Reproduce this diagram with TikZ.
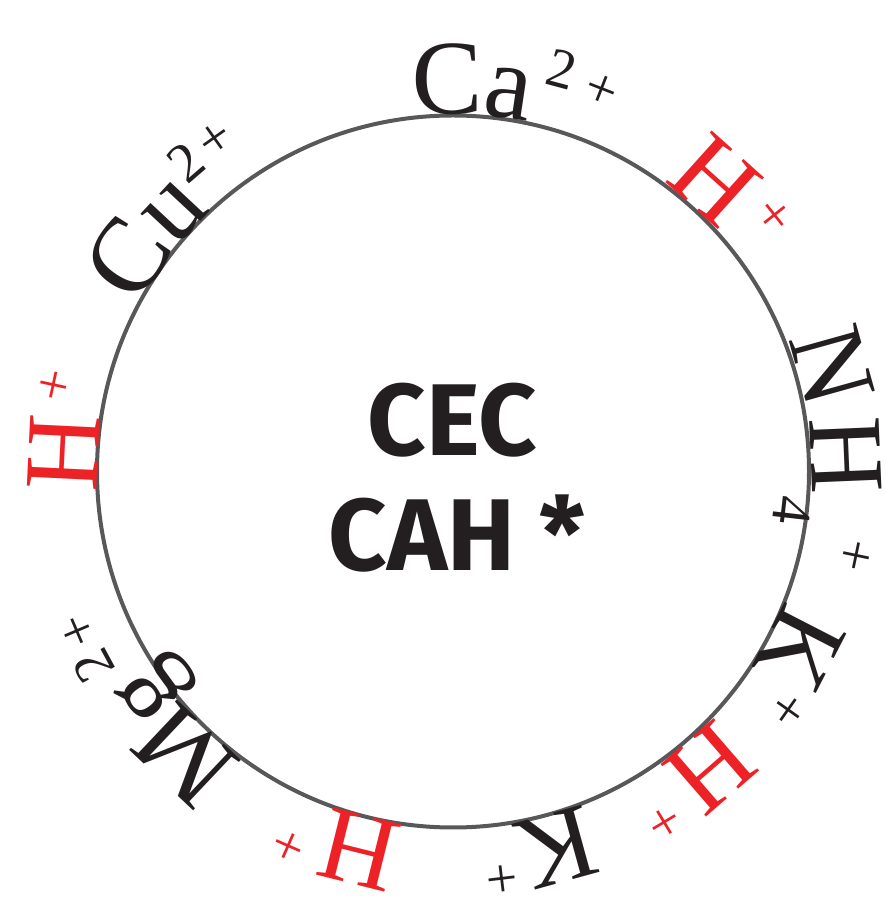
\documentclass[tikz,border=0pt]{standalone}
\usepackage{fontspec}
\setmainfont{Liberation Serif}
\newfontfamily\cecfont{Fira Sans}
\definecolor{ionred}{RGB}{236,34,39}
\definecolor{ink}{RGB}{35,31,32}
\definecolor{ringgray}{RGB}{88,88,90}
\tikzset{
  ionbig/.style={inner sep=0pt, anchor=center, font=\fontsize{106}{106}\selectfont},
  ionsmall/.style={inner sep=0pt, anchor=center, font=\fontsize{56}{56}\selectfont},
  blk/.style={text=ink},
  redion/.style={text=ionred},
  centertext/.style={inner sep=0pt, anchor=base, text=ink, font=\cecfont\bfseries\fontsize{102}{102}\selectfont}
}
% #1 name, #2 angle, #3 radius, #4 styles, #5 glyph
\newcommand\glyphat[5]{\node[#4, rotate=#2-90] (#1) at (#2:#3) {#5};}
\begin{document}
\begin{tikzpicture}[x=1pt,y=1pt]
\useasboundingbox (0,0) rectangle (891,900);
\begin{scope}[shift={(453,428.5)}]
\draw[ringgray, line width=4pt] (0,0) circle (356);
% Ca2+
\glyphat{ca1}{90.9}{392.6}{ionbig,blk}{C}
\glyphat{ca2}{81.6}{381.6}{ionbig,blk}{a}
\glyphat{ca3}{74.9}{417}{ionsmall,blk}{2}
\glyphat{ca4}{68.7}{407.8}{ionsmall,blk}{+}
% Cu2+
\glyphat{cu1}{146.7}{389}{ionbig,blk}{C}
\glyphat{cu2}{137.0}{379}{ionbig,blk}{u}
\glyphat{cu3}{130.8}{408}{ionsmall,blk}{2}
\glyphat{cu4}{125.5}{407}{ionsmall,blk}{+}
% H+ upper right
\glyphat{ha1}{48.05}{392}{ionbig,redion}{H}
\glyphat{ha2}{38.5}{409}{ionsmall,redion}{+}
% NH4+
\glyphat{nh1}{15.6}{393.8}{ionbig,blk}{N}
\glyphat{nh2}{2.4}{393}{ionbig,blk}{H}
\glyphat{nh3}{-6.5}{341}{ionsmall,blk}{4}
\glyphat{nh4}{-11.8}{409}{ionsmall,blk}{+}
% K+ right
\glyphat{ka1}{-27.2}{390.2}{ionbig,blk}{K}
\glyphat{ka2}{-35.4}{409.2}{ionsmall,blk}{+}
% H+ lower right
\glyphat{hb1}{-49.1}{392.6}{ionbig,redion}{H}
\glyphat{hb2}{-58.9}{407}{ionsmall,redion}{+}
% K+ bottom
\glyphat{kb1}{-74.6}{390.8}{ionbig,blk}{K}
\glyphat{kb2}{-83.1}{408}{ionsmall,blk}{+}
% H+ bottom
\glyphat{hc1}{-104}{390.2}{ionbig,redion}{H}
\glyphat{hc2}{-113.7}{406}{ionsmall,redion}{+}
% Mg2+
\glyphat{mg1}{-133.4}{390}{ionbig,blk}{M}
\glyphat{mg2}{-143.9}{366}{ionbig,blk}{g}
\glyphat{mg3}{-151.6}{408.9}{ionsmall,blk}{2}
\glyphat{mg4}{-157}{405.3}{ionsmall,blk}{+}
% H+ left
\glyphat{hd1}{177.2}{390.2}{ionbig,redion}{H}
\glyphat{hd2}{167.8}{406}{ionsmall,redion}{+}
\end{scope}
\node[centertext] (cec) at (452.3,444) {CEC};
\node[centertext] (cah) at (457,329) {CAH *};
\end{tikzpicture}
\end{document}
